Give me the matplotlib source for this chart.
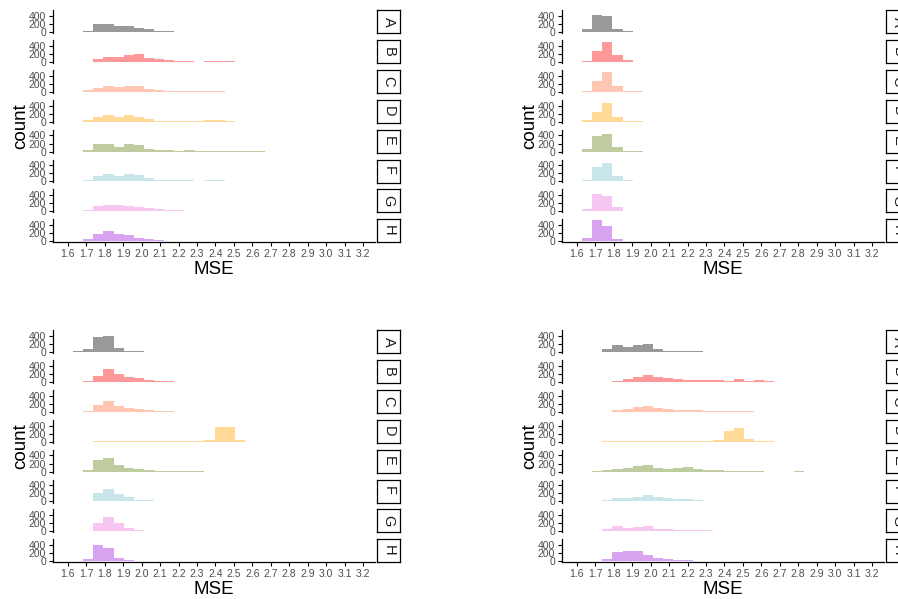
import matplotlib.pyplot as plt
import numpy as np

plt.rcParams['font.family'] = ['Liberation Sans', 'DejaVu Sans']

W, H = 898, 599

facets = ["A", "B", "C", "D", "E", "F", "G", "H"]
colors = ["#999999", "#FF9999", "#FFC7B3", "#FFD995",
          "#BFCC9F", "#C8E5EA", "#F7C6F3", "#D9A3F2"]

bin_start = 1.628
bin_width = 0.0548
x_ticks = [1.6, 1.7, 1.8, 1.9, 2.0, 2.1, 2.2, 2.3, 2.4, 2.5,
           2.6, 2.7, 2.8, 2.9, 3.0, 3.1, 3.2]
y_ticks = [0, 200, 400]

# histogram counts per facet (A..H), bin k starts at bin_start + k*bin_width
counts_top_left = [
    [0, 33, 190, 210, 160, 160, 110, 65, 35, 15, 8, 5, 5, 3, 3, 2],
    [0, 3, 65, 110, 115, 160, 185, 100, 60, 40, 25, 15, 8, 30, 30, 12, 5, 3],
    [0, 40, 90, 150, 125, 150, 150, 60, 40, 25, 25, 15, 8, 15, 8, 3, 3],
    [0, 40, 110, 170, 125, 160, 125, 65, 25, 25, 15, 10, 10, 35, 35, 8, 3],
    [0, 40, 180, 190, 125, 180, 165, 65, 40, 35, 25, 35, 25, 15, 15, 5, 3, 5, 3],
    [0, 25, 140, 190, 125, 175, 160, 90, 40, 35, 25, 25, 15, 25, 25, 5],
    [0, 25, 140, 165, 150, 125, 115, 80, 50, 35, 25, 15, 15, 8, 8, 3, 5],
    [0, 50, 190, 250, 170, 145, 85, 50, 25, 15, 8, 3, 3, 3],
]
counts_top_right = [
    [75, 433, 390, 83, 15, 2],
    [25, 260, 483, 165, 35, 8, 3],
    [25, 260, 483, 150, 25, 8, 3],
    [35, 250, 460, 115, 25, 8, 3, 0, 0, 0, 0, 0, 0, 3],
    [65, 390, 433, 110, 15, 5],
    [25, 350, 460, 140, 25, 3, 5],
    [50, 425, 375, 100, 15],
    [80, 525, 375, 60, 5],
]
counts_bottom_left = [
    [25, 65, 375, 390, 110, 35, 15, 5, 5],
    [0, 15, 150, 325, 185, 115, 90, 40, 25, 15, 8, 2, 3, 0, 3],
    [0, 25, 175, 265, 150, 100, 65, 40, 15, 8, 5, 3, 0, 3],
    [0, 0, 5, 8, 8, 8, 8, 5, 5, 5, 5, 5, 5, 40, 375, 370, 50, 3],
    [0, 40, 280, 345, 170, 90, 55, 50, 25, 15, 5, 3, 3],
    [0, 15, 215, 310, 195, 100, 40, 25, 15, 10, 15, 3, 2],
    [0, 15, 215, 350, 215, 80, 25, 15, 10, 8],
    [0, 50, 395, 335, 85, 25, 15, 2],
]
counts_bottom_right = [
    [0, 5, 85, 180, 135, 180, 190, 75, 35, 15, 25, 15, 8, 3, 3, 3, 3],
    [0, 0, 0, 25, 60, 110, 165, 125, 85, 60, 50, 50, 40, 35, 25, 60, 25, 40,
     15, 8, 5, 3, 2, 2],
    [0, 0, 5, 50, 75, 115, 150, 90, 65, 50, 40, 35, 15, 8, 8, 25, 8, 5, 3],
    [0, 0, 5, 5, 5, 5, 5, 5, 5, 5, 15, 25, 15, 50, 275, 350, 75, 5, 5, 0, 0, 3],
    [0, 5, 40, 55, 90, 140, 170, 80, 75, 90, 115, 75, 40, 30, 25, 15, 5, 3,
     0, 0, 0, 3],
    [0, 0, 35, 80, 75, 105, 165, 100, 75, 55, 55, 25, 15, 15, 15, 10, 5, 5, 3],
    [0, 5, 50, 125, 75, 100, 125, 65, 50, 40, 35, 35, 25, 15, 5, 3, 3, 0, 2, 2],
    [0, 5, 65, 220, 245, 245, 150, 80, 55, 35, 25, 15, 5],
]


def px_axes(fig, x, y, w, h):
    return fig.add_axes([x / W, 1 - (y + h) / H, w / W, h / H])


def draw_panel(fig, x0, y0, counts):
    pw, fh, pitch = 322, 23, 29.9
    for i, name in enumerate(facets):
        top = y0 + i * pitch
        ax = px_axes(fig, x0, top, pw, fh)
        vals = counts[i]
        left = bin_start + bin_width * np.arange(len(vals))
        ax.bar(left, vals, width=bin_width, align="edge",
               color=colors[i], linewidth=0)
        ax.set_xlim(1.519, 3.265)
        ax.set_ylim(-26, 546)
        ax.set_yticks(y_ticks)
        ax.set_yticklabels([str(v) for v in y_ticks])
        ax.tick_params(axis="y", length=3, width=0.8, pad=2,
                       labelsize=7.5, labelcolor="#4D4D4D")
        for s in ["top", "right"]:
            ax.spines[s].set_visible(False)
        ax.spines["left"].set_linewidth(0.9)
        if i < len(facets) - 1:
            ax.spines["bottom"].set_visible(False)
            ax.set_xticks([])
        else:
            ax.spines["bottom"].set_linewidth(0.9)
            ax.set_xticks(x_ticks)
            ax.set_xticklabels([f"{v:.1f}" for v in x_ticks])
            ax.tick_params(axis="x", length=3, width=0.8, pad=2,
                           labelsize=7.5, labelcolor="#4D4D4D")
        # strip on the right
        sa = px_axes(fig, x0 + pw + 2, top, 23, fh)
        sa.set_xticks([])
        sa.set_yticks([])
        for s in sa.spines.values():
            s.set_linewidth(0.9)
        sa.text(0.5, 0.5, name, rotation=-90, ha="center", va="center",
                fontsize=10.5, color="#1A1A1A", transform=sa.transAxes)
    # axis titles
    fig.text((x0 - 32) / W, 1 - (y0 + 116) / H, "count", rotation=90,
             ha="center", va="center", fontsize=13.5)
    fig.text((x0 + pw / 2) / W, 1 - (y0 + 259) / H, "MSE",
             ha="center", va="center", fontsize=13.5)


fig = plt.figure(figsize=(W / 100, H / 100), dpi=100)
draw_panel(fig, 53, 10, counts_top_left)
draw_panel(fig, 562, 10, counts_top_right)
draw_panel(fig, 53, 330, counts_bottom_left)
draw_panel(fig, 562, 330, counts_bottom_right)
fig.savefig("out.png", dpi=100)
